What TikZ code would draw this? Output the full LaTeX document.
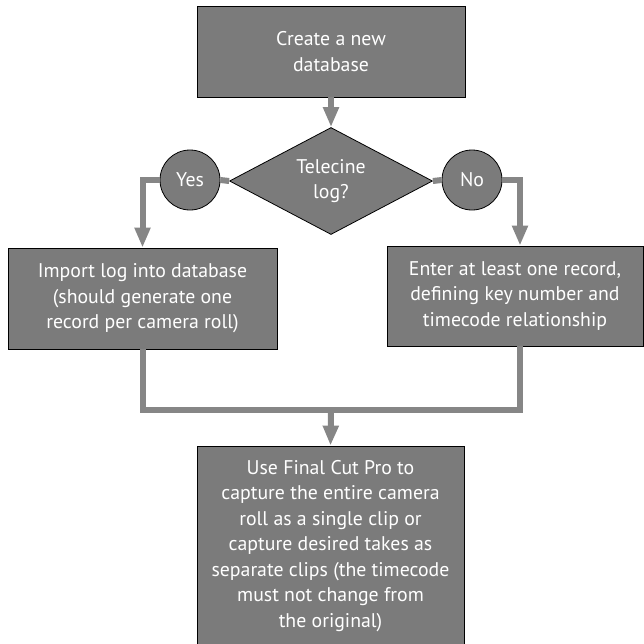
\documentclass[tikz,border=0pt]{standalone}
\usepackage{fontspec}
\setmainfont{PT Sans}
\usepackage{xcolor}
\usepackage{tikz}
\usetikzlibrary{arrows.meta,shapes.geometric}

\definecolor{boxgray}{HTML}{7B7B7B}
\definecolor{linegray}{HTML}{868686}

\tikzset{
  stepbox/.style={draw=black,line width=0.8pt,fill=boxgray,text=white,align=center,
    inner sep=0pt,font=\fontsize{19.8}{25.5}\selectfont},
  decision/.style={stepbox,diamond,aspect=1.9},
  answer/.style={stepbox,circle,minimum size=60pt},
  flowline/.style={draw=linegray,line width=6pt},
  flowarrow/.style={flowline,-{Triangle[width=15pt,length=20pt]}}
}

\begin{document}
\begin{tikzpicture}[x=1pt,y=-1pt]
      \useasboundingbox (0,0) rectangle (644,643);
      \clip (0,0) rectangle (644,643);
      % boxes
      \node[stepbox,minimum width=268pt,minimum height=91pt] (create) at (331,51.5) {Create a new\\database};
      \node[decision,minimum width=203pt,minimum height=107pt] (telecine) at (331,181) {Telecine\\log?};
      \node[answer] (yes) at (190,180) {Yes};
      \node[answer] (no) at (472,180) {No};
      \node[stepbox,minimum width=269pt,minimum height=101pt] (import) at (142.5,298.5) {Import log into database\\(should generate one\\record per camera roll)};
      \node[stepbox,minimum width=256pt,minimum height=100pt] (enter) at (515,296) {Enter at least one record,\\defining key number and\\timecode relationship};
      \node[stepbox,minimum width=267pt,minimum height=200pt] (capture) at (330.5,546) {Use Final Cut Pro to\\capture the entire camera\\roll as a single clip or\\capture desired takes as\\separate clips (the timecode\\must not change from\\the original)};
      \coordinate (join) at (331,410);
      % connectors
      \draw[flowarrow] (create) -- (telecine);
      \draw[flowline] (telecine.west) -- (yes.east);
      \draw[flowline] (telecine.east) -- (no.west);
      \draw[flowarrow] (yes.west) -| (import.north);
      \draw[flowarrow] (no.east) -| ([xshift=5pt]enter.north);
      \draw[flowline] (import.south) |- (join);
      \draw[flowline] ([xshift=5pt]enter.south) |- (join);
      \draw[flowarrow] (join) -- (capture.north);
\end{tikzpicture}
\end{document}
